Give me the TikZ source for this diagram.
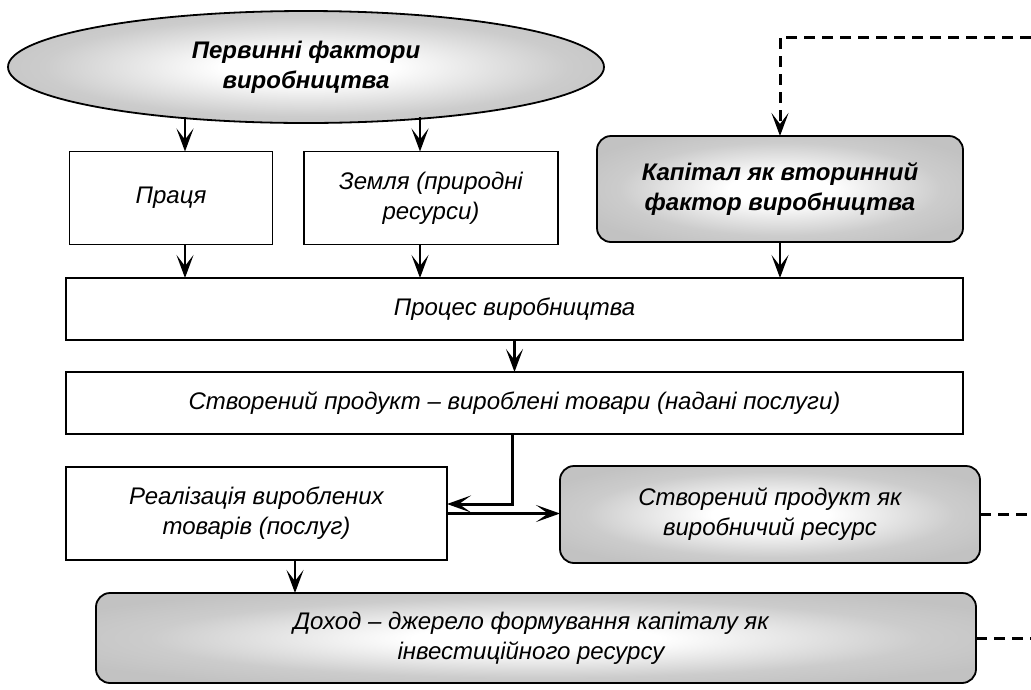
\documentclass[tikz,border=0pt]{standalone}
\usepackage{fontspec}
\setmainfont{Liberation Sans}
\usetikzlibrary{arrows.meta,shapes.geometric}
\pgfdeclareradialshading{softglow}{\pgfpoint{0bp}{0bp}}{%
  color(0bp)=(white); color(7bp)=(white); color(22bp)=(black!20); color(30bp)=(black!24); color(50bp)=(black!24)}
\begin{document}
\begin{tikzpicture}[x=1pt,y=-1pt,
 txt/.style={font=\fontsize{24}{30}\selectfont\itshape, align=center},
 plainbox/.style={draw, line width=1.8pt, inner sep=0pt, outer sep=0pt, fill=white, txt},
 shadebox/.style={plainbox, rounded corners=14pt, shading=softglow},
 arr/.style={line width=2.4pt, -{Stealth[length=23pt,width=17pt,inset=11pt]}},
 arrb/.style={line width=3pt, -{Stealth[length=24pt,width=17pt,inset=12pt]}},
 dsh/.style={line width=3pt, dash pattern=on 11pt off 7pt}]
\useasboundingbox (0,0) rectangle (1031,689);

\node[draw, ellipse, line width=1.8pt, shading=softglow,
      minimum width=596pt, minimum height=112pt, inner sep=0pt, txt] (el) at (306,67)
      {\bfseries Первинні фактори\\\bfseries виробництва};

\node[plainbox, minimum width=203pt, minimum height=93pt] (praca) at (171,198) {Праця};
\node[plainbox, minimum width=254pt, minimum height=93pt] (zem) at (431,198) {Земля (природні\\ресурси)};
\node[shadebox, minimum width=366pt, minimum height=106pt] (cap) at (780,189)
      {\bfseries Капітал як вторинний\\\bfseries фактор виробництва};

\node[plainbox, minimum width=897pt, minimum height=62pt] (proc) at (514.5,309) {Процес виробництва};
\node[plainbox, minimum width=897pt, minimum height=62pt] (stv) at (514.5,403)
      {Створений продукт – вироблені товари (надані послуги)};

\node[plainbox, minimum width=381pt, minimum height=93pt] (real) at (256.5,513.5)
      {Реалізація вироблених\\товарів (послуг)};
\node[shadebox, minimum width=420pt, minimum height=97pt] (res) at (770,514.5)
      {Створений продукт як\\виробничий ресурс};
\node[shadebox, minimum width=880pt, minimum height=90pt] (doh) at (536,638)
      {Доход – джерело формування капіталу як\hspace*{10pt}\\інвестиційного ресурсу\hspace*{10pt}};

% arrows from the ellipse
\coordinate (e1) at (185,117);
\coordinate (e2) at (420,117);
\draw[arr] (e1) -- (e1 |- praca.north);
\draw[arr] (e2) -- (e2 |- zem.north);

% into the production process
\draw[arr] (e1 |- praca.south) -- (e1 |- proc.north);
\draw[arr] (e2 |- zem.south) -- (e2 |- proc.north);
\draw[arr] (cap.south) -- (cap.south |- proc.north);

\draw[arr] (proc.south) -- (stv.north);

% product to realisation
\coordinate (k1) at (512,504);
\draw[arrb] (k1 |- stv.south) -- (k1) -- (k1 -| real.east);
\draw[arrb] (real.east) -- (real.east -| res.west);

% realisation to income
\coordinate (k2) at (295,560);
\draw[arr] (k2 |- real.south) -- (k2 |- doh.north);

% dashed feedback lines
\coordinate (t1) at (1031,37);
\draw[dsh, -{Stealth[length=23pt,width=17pt,inset=11pt]}] (t1) -| (cap.north);
\coordinate (r1) at (1031,515);
\draw[dsh] (res.east) -- (res.east -| r1);
\draw[dsh] (doh.east) -- (doh.east -| r1);
\end{tikzpicture}
\end{document}
